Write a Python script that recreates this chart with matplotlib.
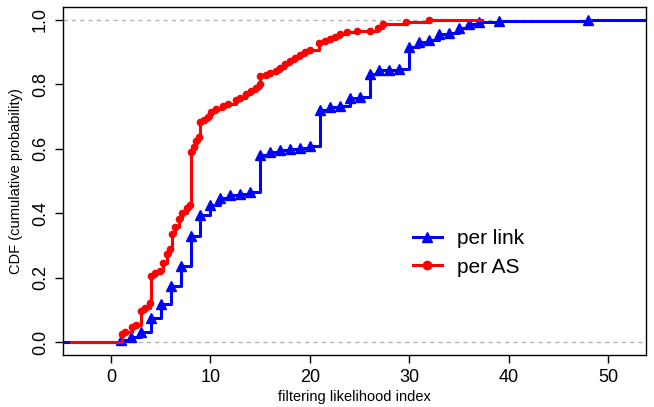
import matplotlib
matplotlib.use("Agg")
import matplotlib.pyplot as plt
from matplotlib.lines import Line2D

plt.rcParams['font.family'] = ['Liberation Sans', 'DejaVu Sans']

# per link ECDF (value, cumulative probability)
link_x = [1, 2, 3, 4, 5, 6, 7, 8, 9, 10, 11, 12, 13, 14, 15, 16, 17, 18, 19, 20,
          21, 22, 23, 24, 25, 26, 27, 28, 29, 30, 31, 32, 33, 34, 35, 36, 37, 39, 48]
link_y = [0.007, 0.017, 0.03, 0.075, 0.118, 0.173, 0.235, 0.33, 0.395, 0.425,
          0.447, 0.456, 0.461, 0.466, 0.58, 0.59, 0.595, 0.599, 0.603, 0.608,
          0.72, 0.73, 0.733, 0.758, 0.762, 0.831, 0.843, 0.845, 0.847, 0.915,
          0.93, 0.937, 0.955, 0.96, 0.975, 0.988, 0.993, 0.997, 1.0]

# per AS ECDF
as_x = [1.1, 1.4, 2.1, 2.5, 3.0, 3.4, 3.9, 4.0, 4.4, 4.9, 5.2, 5.6, 5.9, 6.1, 6.4,
        6.8, 7.1, 7.6, 7.9, 8.0, 8.4, 8.6, 8.9, 9.0, 9.4, 9.8, 10.1, 10.6, 11.3,
        11.8, 12.6, 13.0, 13.6, 14.1, 14.6, 14.95, 15.0, 15.6, 16.0, 16.6, 17.0,
        17.5, 18.0, 18.5, 19.0, 19.5, 20.0, 20.9, 21.5, 22.0, 22.5, 23.0, 23.7,
        24.7, 26.0, 26.9, 27.4, 29.7, 32.0]
as_y = [0.025, 0.03, 0.047, 0.052, 0.095, 0.105, 0.12, 0.205, 0.215, 0.222,
        0.245, 0.272, 0.288, 0.335, 0.357, 0.382, 0.402, 0.416, 0.425, 0.59,
        0.605, 0.625, 0.637, 0.683, 0.688, 0.698, 0.713, 0.724, 0.733, 0.74,
        0.75, 0.757, 0.77, 0.78, 0.79, 0.80, 0.825, 0.83, 0.835, 0.84, 0.852,
        0.862, 0.872, 0.882, 0.892, 0.9, 0.907, 0.928, 0.935, 0.94, 0.948,
        0.955, 0.961, 0.964, 0.966, 0.976, 0.986, 0.992, 1.0]

x_ticks = [0, 10, 20, 30, 40, 50]
y_ticks = [0.0, 0.2, 0.4, 0.6, 0.8, 1.0]
y_ticklabels = ["0.0", "0.2", "0.4", "0.6", "0.8", "1.0"]

xlim = (-4.85, 53.8)
ylim = (-0.04, 1.04)

fig = plt.figure(figsize=(6.54, 4.07), dpi=100)
ax = fig.add_axes([0.0959, 0.1278, 0.8919, 0.855])
ax.set_xlim(*xlim)
ax.set_ylim(*ylim)

gray = "#B3B3B3"
ax.axhline(0, color=gray, ls=(0, (3, 3)), lw=1, zorder=1)
ax.axhline(1, color=gray, ls=(0, (3, 3)), lw=1, zorder=1)

blue = "#0000FF"
red = "#FF0000"

# blue step line
bx = [xlim[0] - 1] + link_x + [xlim[1] + 1]
by = [0] + link_y + [link_y[-1]]
ax.step(bx, by, where='post', color=blue, lw=2.2, zorder=2)
ax.plot(link_x, link_y, ls='none', marker='^', color=blue, ms=7.5, zorder=3)

# red step line
rx = [-4.0] + as_x + [37.3]
ry = [0] + as_y + [as_y[-1]]
ax.step(rx, ry, where='post', color=red, lw=2.2, zorder=4)
ax.plot(as_x, as_y, ls='none', marker='o', color=red, ms=4.5, zorder=5)

ax.set_xticks(x_ticks)
ax.set_xticklabels([str(t) for t in x_ticks])
ax.set_yticks(y_ticks)
ax.set_yticklabels(y_ticklabels, rotation=90, va='center')
ax.tick_params(axis='both', direction='out', length=6, width=1, labelsize=13, colors='black')
ax.tick_params(axis='x', pad=4)
ax.tick_params(axis='y', pad=4)
for s in ax.spines.values():
    s.set_linewidth(1.0)
    s.set_color('black')

ax.set_xlabel("filtering likelihood index", fontsize=10.5, labelpad=3)
ax.set_ylabel("CDF (cumulative probability)", fontsize=10.5, labelpad=6)

handles = [Line2D([0], [0], color=blue, lw=2.2, marker='^', ms=7.5),
           Line2D([0], [0], color=red, lw=2.2, marker='o', ms=6)]
ax.legend(handles, ["per link", "per AS"], loc='upper left',
          bbox_to_anchor=(0.568, 0.415), frameon=False, fontsize=15,
          handlelength=1.4, handletextpad=0.7, labelspacing=0.45)

fig.savefig("out.png", dpi=100)
